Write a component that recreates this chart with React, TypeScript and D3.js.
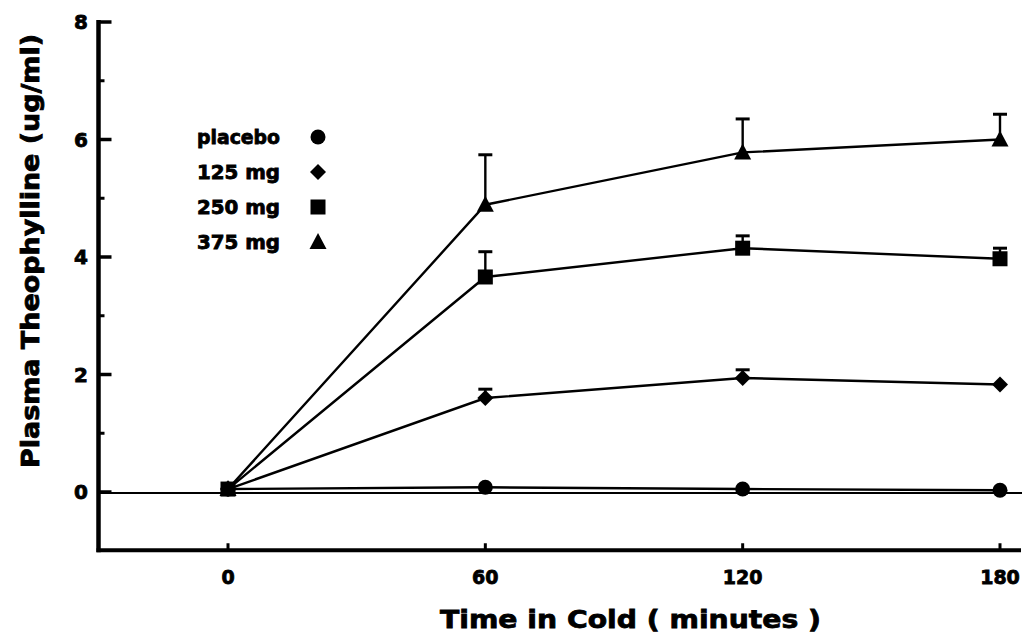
import React from "react";
import * as d3 from "d3";

const times = [0, 60, 120, 180];
const seriesNames = ["placebo", "125 mg", "250 mg", "375 mg"];
const placebo = [0.05, 0.08, 0.05, 0.03];
const mg125 = [0.05, 1.6, 1.94, 1.83];
const mg250 = [0.05, 3.66, 4.15, 3.97];
const mg375 = [0.05, 4.89, 5.78, 6.0];
const err125 = [null, 0.15, 0.14, null];
const err250 = [null, 0.43, 0.21, 0.18];
const err375 = [null, 0.85, 0.57, 0.43];
const xTicks = [0, 60, 120, 180];
const yTicks = [0, 2, 4, 6, 8];
const yMinorTicks = [1, 3, 5, 7];
const symbols = ["circle", "diamond", "square", "triangle"];

const W = 1022;
const H = 637;
const FONT = "'DejaVu Sans', 'Liberation Sans', Arial, sans-serif";

export default function App() {
  const x = d3.scaleLinear().domain([0, 180]).range([228, 1000]);
  const y = d3.scaleLinear().domain([0, 8]).range([492, 22]);
  const axisLeft = 98.5;
  const axisBottom = y(-1) - 0.5;
  const line = d3
    .line<number>()
    .x((_, i) => x(times[i]))
    .y((d) => y(d));

  const values = [placebo, mg125, mg250, mg375];
  const errs = [[null, null, null, null], err125, err250, err375];

  const marker = (kind: string, cx: number, cy: number, key: string) => {
    if (kind === "circle") return <circle key={key} cx={cx} cy={cy} r={7.5} fill="#000" />;
    if (kind === "diamond")
      return <path key={key} d={`M${cx},${cy - 8}L${cx + 8},${cy}L${cx},${cy + 8}L${cx - 8},${cy}Z`} fill="#000" />;
    if (kind === "square") return <rect key={key} x={cx - 7.5} y={cy - 7.5} width={15} height={15} fill="#000" />;
    return <path key={key} d={`M${cx},${cy - 9}L${cx + 8.5},${cy + 7}L${cx - 8.5},${cy + 7}Z`} fill="#000" />;
  };

  const txt = { fontFamily: FONT, fontWeight: 700, fill: "#000", stroke: "#000", strokeWidth: 0.8 } as const;
  const legendY = [137, 172, 207, 242];

  return (
    <svg width={W} height={H} style={{ position: "absolute", left: 0, top: 0, background: "#fff" }}>
      {/* zero line */}
      <line x1={axisLeft} x2={W} y1={y(0) + 1} y2={y(0) + 1} stroke="#000" strokeWidth={1.8} />
      {/* axes */}
      <line x1={axisLeft} x2={axisLeft} y1={y(8) - 2} y2={axisBottom + 2} stroke="#000" strokeWidth={4.5} />
      <line x1={axisLeft - 2} x2={1021} y1={axisBottom} y2={axisBottom} stroke="#000" strokeWidth={4} />
      {yTicks.map((t) => (
        <g key={"yt" + t}>
          <line x1={axisLeft} x2={axisLeft + 13} y1={y(t)} y2={y(t)} stroke="#000" strokeWidth={3.5} />
          <text x={88} y={y(t)} dy="0.36em" textAnchor="end" fontSize={20} {...txt}>
            {t}
          </text>
        </g>
      ))}
      {yMinorTicks.map((t) => (
        <line key={"ym" + t} x1={axisLeft} x2={axisLeft + 6} y1={y(t)} y2={y(t)} stroke="#000" strokeWidth={3} />
      ))}
      {xTicks.map((t) => (
        <g key={"xt" + t}>
          <line x1={x(t)} x2={x(t)} y1={axisBottom} y2={axisBottom - 7} stroke="#000" strokeWidth={3} />
          <text x={x(t)} y={577} dy="0.36em" textAnchor="middle" fontSize={19} {...txt}>
            {t}
          </text>
        </g>
      ))}
      {/* axis titles */}
      <text x={440} y={628} fontSize={25} textLength={381} lengthAdjust="spacingAndGlyphs" {...txt}>
        Time in Cold ( minutes )
      </text>
      <text
        transform={`translate(39,${468}) rotate(-90)`}
        fontSize={25}
        textLength={434}
        lengthAdjust="spacingAndGlyphs"
        {...txt}
      >
        Plasma Theophylline (ug/ml)
      </text>
      {/* series */}
      {values.map((vals, si) => (
        <g key={"s" + si}>
          <path d={line(vals) || ""} fill="none" stroke="#000" strokeWidth={2.4} />
          {vals.map((v, i) => {
            const e = errs[si][i];
            if (e == null) return null;
            return (
              <g key={"e" + i}>
                <line x1={x(times[i])} x2={x(times[i])} y1={y(v)} y2={y(v + e)} stroke="#000" strokeWidth={2.4} />
                <line x1={x(times[i]) - 7} x2={x(times[i]) + 7} y1={y(v + e)} y2={y(v + e)} stroke="#000" strokeWidth={3} />
              </g>
            );
          })}
          {vals.map((v, i) => marker(symbols[si], x(times[i]), y(v), "m" + i))}
        </g>
      ))}
      {/* legend */}
      {seriesNames.map((n, i) => (
        <g key={"l" + i}>
          <text x={197} y={legendY[i]} dy="0.36em" fontSize={19} textLength={83} lengthAdjust="spacingAndGlyphs" {...txt}>
            {n}
          </text>
          {marker(symbols[i], 318, legendY[i], "lm" + i)}
        </g>
      ))}
    </svg>
  );
}
